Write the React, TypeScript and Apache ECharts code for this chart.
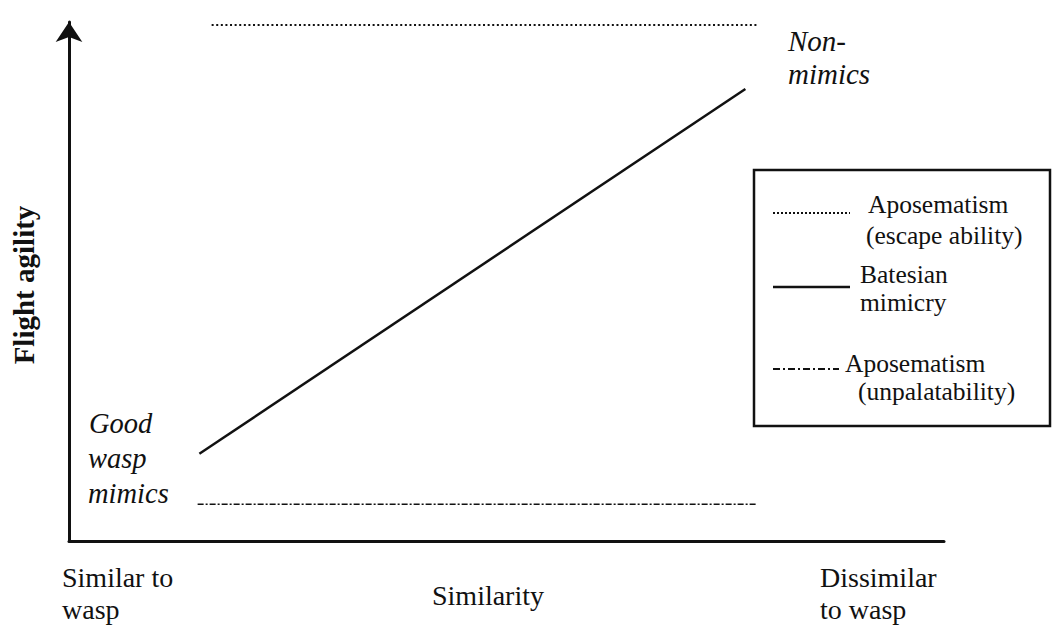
import React, { useEffect, useRef } from "react";
import * as echarts from "echarts";

// Data (0-100 conceptual scales)
const similarityRange = [0, 100];
const agilityRange = [0, 100];
const escapeAbility: [number, number][] = [[16.3, 99.4], [78.6, 99.4]];
const batesianMimicry: [number, number][] = [[14.9, 16.8], [77.3, 87.1]];
const unpalatability: [number, number][] = [[14.7, 7.1], [78.6, 7.1]];
const seriesNames = ["Aposematism (escape ability)", "Batesian mimicry", "Aposematism (unpalatability)"];
const yAxisTitle = "Flight agility";
const xAxisTitle = "Similarity";
const xLeftLabel = ["Similar to", "wasp"];
const xRightLabel = ["Dissimilar", "to wasp"];
const goodMimicsLabel = ["Good", "wasp", "mimics"];
const nonMimicsLabel = ["Non-", "mimics"];
const legendLines = [
  ["Aposematism", "(escape ability)"],
  ["Batesian", "mimicry"],
  ["Aposematism", "(unpalatability)"],
];

const SERIF = "'Liberation Serif', 'Times New Roman', serif";
const INK = "#111";

export default function App() {
  const ref = useRef<HTMLDivElement>(null);
  useEffect(() => {
    document.body.style.margin = "0";
    const chart = echarts.init(ref.current!, null, { renderer: "svg" });
    const txt = (text: string, x: number, y: number, size: number, opts: any = {}) => ({
      type: "text",
      x,
      y,
      rotation: opts.rotation || 0,
      style: {
        text,
        x: 0,
        y: 0,
        fill: INK,
        font: `${opts.italic ? "italic " : ""}${opts.bold ? "bold " : ""}${size}px ${SERIF}`,
        align: opts.align || "left",
        verticalAlign: "middle",
        lineHeight: size,
      },
      silent: true,
    });
    const legendX = 754, legendY = 170, legendW = 296, legendH = 256;
    const sampleX1 = 773, sampleX2 = 850;
    const LF = 25.5;
    chart.setOption({
      animation: false,
      grid: { left: 69, right: 111, top: 22, bottom: 88, containLabel: false },
      xAxis: {
        type: "value",
        min: similarityRange[0],
        max: similarityRange[1],
        axisLine: { show: true, lineStyle: { color: INK, width: 3 } },
        axisTick: { show: false },
        axisLabel: { show: false },
        splitLine: { show: false },
      },
      yAxis: {
        type: "value",
        min: agilityRange[0],
        max: agilityRange[1],
        axisLine: {
          show: true,
          lineStyle: { color: INK, width: 3 },
          symbol: ["none", "arrow"],
          symbolSize: [20, 20],
        },
        axisTick: { show: false },
        axisLabel: { show: false },
        splitLine: { show: false },
      },
      series: [
        {
          name: seriesNames[0],
          type: "line",
          data: escapeAbility,
          showSymbol: false,
          silent: true,
          lineStyle: { color: INK, width: 2, type: [2, 2.6] },
        },
        {
          name: seriesNames[1],
          type: "line",
          data: batesianMimicry,
          showSymbol: false,
          silent: true,
          lineStyle: { color: INK, width: 2.5 },
        },
        {
          name: seriesNames[2],
          type: "line",
          data: unpalatability,
          showSymbol: false,
          silent: true,
          lineStyle: { color: INK, width: 1.5, type: [6, 2, 2, 2] },
        },
      ],
      graphic: [
        txt(yAxisTitle, 24, 285, 29, { bold: true, rotation: Math.PI / 2, align: "center" }),
        txt(xLeftLabel[0], 62, 577, 28),
        txt(xLeftLabel[1], 62, 609, 28),
        txt(xAxisTitle, 488, 595, 28, { align: "center" }),
        txt(xRightLabel[0], 820, 577, 28),
        txt(xRightLabel[1], 820, 609, 28),
        txt(goodMimicsLabel[0], 89, 423, 28.5, { italic: true }),
        txt(goodMimicsLabel[1], 88, 458, 28.5, { italic: true }),
        txt(goodMimicsLabel[2], 88, 493, 28.5, { italic: true }),
        txt(nonMimicsLabel[0], 788, 41, 29, { italic: true }),
        txt(nonMimicsLabel[1], 788, 74, 29, { italic: true }),
        {
          type: "rect",
          shape: { x: legendX, y: legendY, width: legendW, height: legendH },
          style: { fill: "#fff", stroke: INK, lineWidth: 2.5 },
          silent: true,
        },
        {
          type: "line",
          shape: { x1: sampleX1, y1: 213, x2: sampleX2, y2: 213 },
          style: { stroke: INK, lineWidth: 2, lineDash: [2, 2] },
          silent: true,
        },
        {
          type: "line",
          shape: { x1: sampleX1, y1: 287, x2: sampleX2, y2: 287 },
          style: { stroke: INK, lineWidth: 2.5 },
          silent: true,
        },
        {
          type: "line",
          shape: { x1: sampleX1, y1: 369, x2: 839, y2: 369 },
          style: { stroke: INK, lineWidth: 2, lineDash: [7, 3, 2, 3] },
          silent: true,
        },
        txt(legendLines[0][0], 868, 204, LF),
        txt(legendLines[0][1], 866, 235, LF),
        txt(legendLines[1][0], 860, 274, LF),
        txt(legendLines[1][1], 860, 302, LF),
        txt(legendLines[2][0], 845, 363, LF),
        txt(legendLines[2][1], 858, 391, LF),
      ],
    });
    return () => chart.dispose();
  }, []);
  return (
    <div
      ref={ref}
      style={{ position: "fixed", left: 0, top: 0, width: 1055, height: 629, background: "#fff" }}
    />
  );
}
